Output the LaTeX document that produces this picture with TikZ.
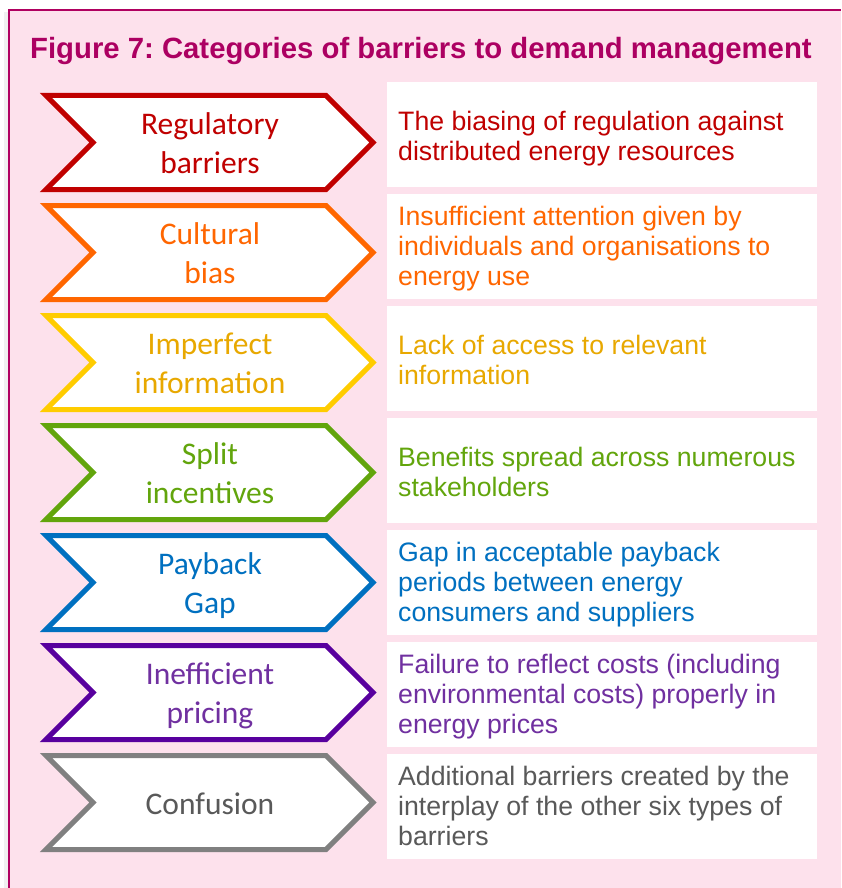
\documentclass[tikz,border=0pt]{standalone}
\usepackage{fontspec}
\setmainfont{Liberation Sans}
\newfontfamily\calib{Carlito}
\frenchspacing
\definecolor{pinkbg}{RGB}{253,225,236}
\definecolor{magb}{RGB}{176,0,96}
\definecolor{titlec}{RGB}{172,0,98}
\definecolor{cred}{RGB}{192,0,0}
\definecolor{corange}{RGB}{255,102,0}
\definecolor{cyellowb}{RGB}{255,204,0}
\definecolor{cyellowt}{RGB}{232,168,0}
\definecolor{cgreen}{RGB}{98,165,12}
\definecolor{cblue}{RGB}{0,112,192}
\definecolor{cpurpleb}{RGB}{88,0,158}
\definecolor{cpurplet}{RGB}{112,48,160}
\definecolor{cgrayb}{RGB}{128,128,128}
\definecolor{cgrayt}{RGB}{89,89,89}
\newcommand\barrier[7]{%
  \pgfmathsetmacro\ct{93+110*#1}%
  \pgfmathsetmacro\bt{82+112*#1}%
  \draw[chevbox, draw=#2] (46,\ct+2.5) -- (326,\ct+2.5) -- (373,\ct+49.5)
     -- (326,\ct+96.5) -- (46,\ct+96.5) -- (93,\ct+49.5) -- cycle;
  \node[chevlabel, text=#3] (lab#1) at (210,\ct+49.5+#5)
     {\parbox[t]{300pt}{\centering\calib\fontsize{31.5}{39}\selectfont #4}};
  \fill[white] (387,\bt) rectangle (817,\bt+105);
  \node[desclabel, text=#3] (desc#1) at (398,\bt+#7)
     {\parbox[t]{415pt}{\raggedright\fontsize{26.67}{30.3}\selectfont #6}};
}
\begin{document}
\begin{tikzpicture}[x=1pt,y=-1pt,
  chevbox/.style={line width=5pt, fill=white, line join=miter},
  chevlabel/.style={anchor=base, inner sep=0pt},
  desclabel/.style={anchor=base west, inner sep=0pt}]
\useasboundingbox (0,0) rectangle (841,888);
\fill[white] (0,0) rectangle (841,888);
\fill[black!6] (4,12) rectangle (8,888);
\fill[pinkbg] (9,10) rectangle (841,888);
\draw[magb, line width=1.6pt] (9,888) -- (9,10) -- (841,10);
\node[anchor=base west, inner sep=0pt, text=titlec,
      font=\bfseries\fontsize{29.3}{35}\selectfont] (title) at (30,59)
  {Figure 7: Categories of barriers to demand management};
\barrier{0}{cred}{cred}{Regulatory\\barriers}{-8}{The biasing of regulation against\\distributed energy resources}{48}
\barrier{1}{corange}{corange}{Cultural\\bias}{-8}{Insufficient attention given by\\individuals and organisations to\\energy use}{31}
\barrier{2}{cyellowb}{cyellowt}{Imperfect\\information}{-8}{Lack of access to relevant\\information}{48}
\barrier{3}{cgreen}{cgreen}{Split\\incentives}{-8}{Benefits spread across numerous\\stakeholders}{48}
\barrier{4}{cblue}{cblue}{Payback\\Gap}{-8}{Gap in acceptable payback\\periods between energy\\consumers and suppliers}{31}
\barrier{5}{cpurpleb}{cpurplet}{Inefficient\\pricing}{-8}{Failure to reflect costs (including\\environmental costs) properly in\\energy prices}{31}
\barrier{6}{cgrayb}{cgrayt}{Confusion}{11.5}{Additional barriers created by the\\interplay of the other six types of\\barriers}{31}
\end{tikzpicture}
\end{document}
